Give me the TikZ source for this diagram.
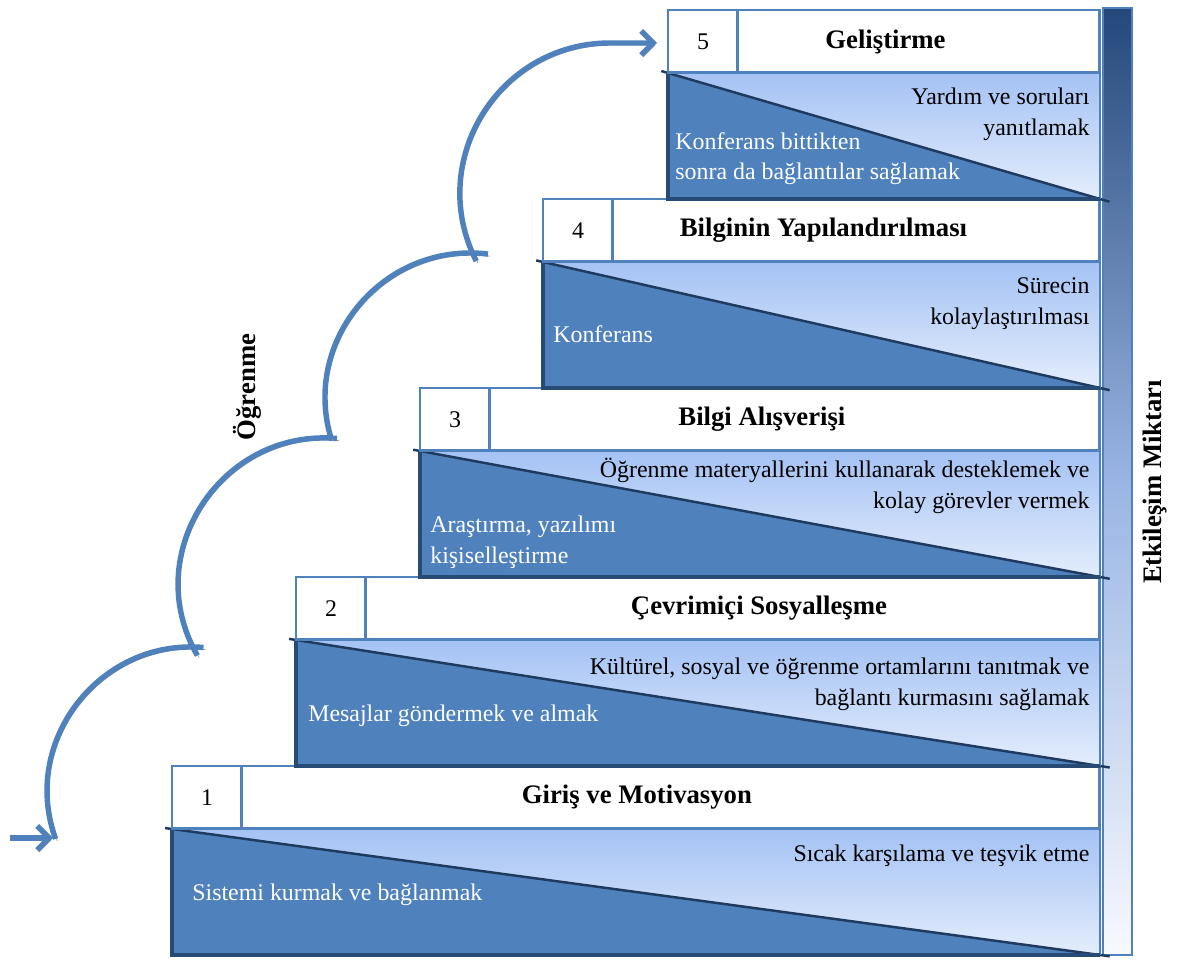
\documentclass[tikz,border=0pt]{standalone}
\usepackage{fontspec}
\setmainfont{Liberation Serif}
\usetikzlibrary{arrows.meta,positioning}

\definecolor{stepblue}{HTML}{4F81BD}
\definecolor{stepdark}{HTML}{284B76}
\definecolor{diagdark}{HTML}{1F3A5F}
\definecolor{bodytop}{HTML}{A4C2F4}
\definecolor{bodybot}{HTML}{E4EDFC}
\definecolor{bartop}{HTML}{24487A}
\definecolor{barmid}{HTML}{9AB5E3}
\definecolor{barbot}{HTML}{F7F9FE}

\begin{document}
\begin{tikzpicture}[
        x=0.02cm, y=0.02cm,
        numbox/.style={draw=stepblue, fill=white, line width=1.7pt, minimum width=1.4cm, minimum height=1.26cm, outer sep=0pt, inner sep=0pt, font=\fontsize{13.6}{16}\selectfont},
        titlebox/.style={draw=stepblue, fill=white, line width=1.7pt, minimum height=1.26cm, outer sep=0pt, inner sep=0pt},
        steptitle/.style={font=\fontsize{15.2}{18}\selectfont\bfseries, inner sep=0pt},
        bodybox/.style={top color=bodytop, bottom color=bodybot, minimum height=2.52cm, outer sep=0pt, inner sep=0pt},
        tri/.style={fill=stepblue},
        diag/.style={draw=diagdark, line width=1.4pt, shorten <=-0.14cm, shorten >=-0.2cm},
        darkedge/.style={draw=stepdark, line width=2pt},
        lightedge/.style={draw=stepblue, line width=1.2pt},
        rtext/.style={align=right, inner sep=0pt, font=\fontsize{13.6}{17.6}\selectfont},
        ltext/.style={align=left, inner sep=0pt, text=white, font=\fontsize{13.6}{17.6}\selectfont},
        bar/.style={draw=stepblue, line width=1.2pt, top color=bartop, bottom color=barbot, middle color=barmid, minimum width=0.58cm, minimum height=18.94cm, inner sep=0pt},
        flow/.style={draw=stepblue, line width=3.1pt, preaction={draw=black!40, transform canvas={shift={(1pt,-1.2pt)}}}},
        arrowtip/.style={-{Straight Barb[length=2.4mm,width=4.8mm]}},
        sidelabel/.style={font=\fontsize{15.2}{18}\selectfont\bfseries, rotate=90, inner sep=0pt}
    ]
    \useasboundingbox (0,0) rectangle (1181,963);

    % interaction bar
    \node[bar] (bar) at (1117.5,481.5) {};
    \node[sidelabel] (amount) at (1155,481) {Etkileşim Miktarı};

    % step 1
    \node[bodybox, minimum width=18.56cm, anchor=north west] (b1) at (172,134) {};
    \fill[tri] (b1.north west) -- (b1.south east) -- (b1.south west) -- cycle;
    \draw[diag] (b1.north west) -- (b1.south east);
    \draw[lightedge] (b1.north east) -- (b1.south east);
    \draw[darkedge] (b1.north west) -- (b1.south west) -- (b1.south east);
    \node[numbox, above right=0pt and 0pt of b1.north west] (n1) {1};
    \node[titlebox, minimum width=17.16cm, right=0pt of n1] (t1) {};
    \node[steptitle] (g1) at ([xshift=-0.68cm]t1.center) {Giriş ve Motivasyon};
    \node[rtext, below left=0.31cm and 0.2cm of b1.north east] (r1) {Sıcak karşılama ve teşvik etme};
    \node[ltext, above right=0.98cm and 0.4cm of b1.south west] (l1) {Sistemi kurmak ve bağlanmak};

    % step 2
    \node[bodybox, minimum width=16.08cm, anchor=north west] (b2) at (296,323) {};
    \fill[tri] (b2.north west) -- (b2.south east) -- (b2.south west) -- cycle;
    \draw[diag] (b2.north west) -- (b2.south east);
    \draw[lightedge] (b2.north east) -- (b2.south east);
    \draw[darkedge] (b2.north west) -- (b2.south west) -- (b2.south east);
    \node[numbox, above right=0pt and 0pt of b2.north west] (n2) {2};
    \node[titlebox, minimum width=14.68cm, right=0pt of n2] (t2) {};
    \node[steptitle] (g2) at ([xshift=0.52cm]t2.center) {Çevrimiçi Sosyalleşme};
    \node[rtext, below left=0.35cm and 0.2cm of b2.north east] (r2) {Kültürel, sosyal ve öğrenme ortamlarını tanıtmak ve\\bağlantı kurmasını sağlamak};
    \node[ltext, above right=0.77cm and 0.24cm of b2.south west] (l2) {Mesajlar göndermek ve almak};

    % step 3
    \node[bodybox, minimum width=13.6cm, anchor=north west] (b3) at (420,512) {};
    \fill[tri] (b3.north west) -- (b3.south east) -- (b3.south west) -- cycle;
    \draw[diag] (b3.north west) -- (b3.south east);
    \draw[lightedge] (b3.north east) -- (b3.south east);
    \draw[darkedge] (b3.north west) -- (b3.south west) -- (b3.south east);
    \node[numbox, above right=0pt and 0pt of b3.north west] (n3) {3};
    \node[titlebox, minimum width=12.2cm, right=0pt of n3] (t3) {};
    \node[steptitle] (g3) at ([xshift=-0.66cm]t3.center) {Bilgi Alışverişi};
    \node[rtext, below left=0.14cm and 0.2cm of b3.north east] (r3) {Öğrenme materyallerini kullanarak desteklemek ve\\kolay görevler vermek};
    \node[ltext, above right=0.17cm and 0.2cm of b3.south west] (l3) {Araştırma, yazılımı\\kişiselleştirme};

    % step 4
    \node[bodybox, minimum width=11.14cm, anchor=north west] (b4) at (543,701) {};
    \fill[tri] (b4.north west) -- (b4.south east) -- (b4.south west) -- cycle;
    \draw[diag] (b4.north west) -- (b4.south east);
    \draw[lightedge] (b4.north east) -- (b4.south east);
    \draw[darkedge] (b4.north west) -- (b4.south west) -- (b4.south east);
    \node[numbox, above right=0pt and 0pt of b4.north west] (n4) {4};
    \node[titlebox, minimum width=9.74cm, right=0pt of n4] (t4) {};
    \node[steptitle] (g4) at ([xshift=-0.66cm]t4.center) {Bilginin Yapılandırılması};
    \node[rtext, below left=0.3cm and 0.2cm of b4.north east] (r4) {Sürecin\\kolaylaştırılması};
    \node[ltext, above right=0.9cm and 0.2cm of b4.south west] (l4) {Konferans};

    % step 5
    \node[bodybox, minimum width=8.64cm, anchor=north west] (b5) at (668,890) {};
    \fill[tri] (b5.north west) -- (b5.south east) -- (b5.south west) -- cycle;
    \draw[diag] (b5.north west) -- (b5.south east);
    \draw[lightedge] (b5.north east) -- (b5.south east);
    \draw[darkedge] (b5.north west) -- (b5.south west) -- (b5.south east);
    \node[numbox, above right=0pt and 0pt of b5.north west] (n5) {5};
    \node[titlebox, minimum width=7.24cm, right=0pt of n5] (t5) {};
    \node[steptitle] (g5) at ([xshift=-0.67cm]t5.center) {Geliştirme};
    \node[rtext, below left=0.3cm and 0.2cm of b5.north east] (r5) {Yardım ve soruları\\yanıtlamak};
    \node[ltext, above right=0.27cm and 0.14cm of b5.south west] (l5) {Konferans bittikten\\sonra da bağlantılar sağlamak};

    % learning arcs
    \node[sidelabel] (learn) at (247,576) {Öğrenme};
    \coordinate (s0) at (10,125);
    \coordinate (e0) at (53,125);
    \coordinate (p1) at (55.6,124.1);
    \coordinate (q1) at (203.5,315.5);
    \coordinate (p2) at (197.4,307.5);
    \coordinate (q2) at (337,524.5);
    \coordinate (p3) at (331.3,523.9);
    \coordinate (q3) at (488,708.9);
    \coordinate (p4) at (476.3,701.9);
    \coordinate (q4) at (610,920);
    \coordinate (e4) at (657,920);
    \draw[flow, arrowtip] (s0) -- (e0);
    \draw[flow] (p1) to[out=110, in=175, looseness=1.1] (q1);
    \draw[flow] (p2) to[out=120, in=175, looseness=1.16] (q2);
    \draw[flow] (p3) to[out=107, in=173, looseness=1.1] (q3);
    \draw[flow, arrowtip] (p4) to[out=117, in=180, looseness=1.12] (q4) -- (e4);
\end{tikzpicture}
\end{document}
